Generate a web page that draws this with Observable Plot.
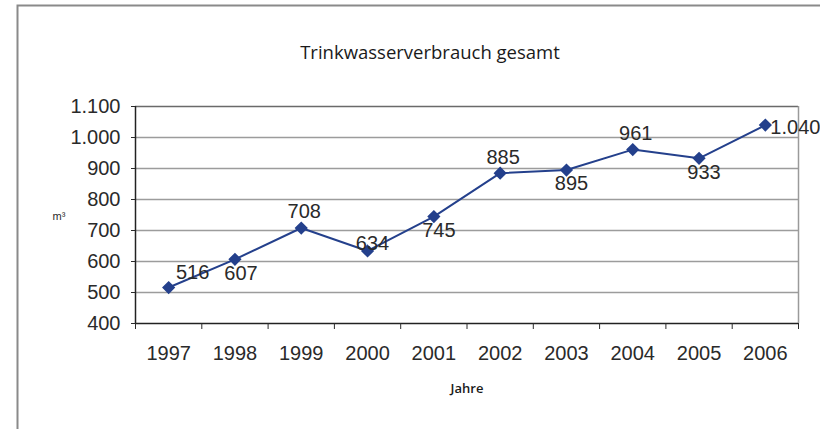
<!DOCTYPE html>
<html>
<head>
<meta charset="utf-8">
<script src="https://cdn.jsdelivr.net/npm/d3@7"></script>
<script src="https://cdn.jsdelivr.net/npm/@observablehq/plot@0.6"></script>
<style>
  html, body { margin: 0; padding: 0; background: #fff; }
</style>
</head>
<body>
<div id="chart"></div>
<script>
const title = "Trinkwasserverbrauch gesamt";
const yUnit = "m³";
const xTitle = "Jahre";
const years = [1997, 1998, 1999, 2000, 2001, 2002, 2003, 2004, 2005, 2006];
const values = [516, 607, 708, 634, 745, 885, 895, 961, 933, 1040];
const yTicks = [400, 500, 600, 700, 800, 900, 1000, 1100];
const labelPlacement = ["ne", "se", "n", "c", "s", "n", "s", "n", "s", "e"];

const data = years.map((year, i) => ({year, value: values[i], place: labelPlacement[i]}));

const de = d3.formatLocale({decimal: ",", thousands: ".", grouping: [3], currency: ["", " €"]});
const fmt = de.format(",");

const placeStyle = {
  ne: {dx: 24, dy: -15, textAnchor: "middle"},
  se: {dx: 6, dy: 14, textAnchor: "middle"},
  n:  {dx: 3, dy: -16, textAnchor: "middle"},
  c:  {dx: 5, dy: -7, textAnchor: "middle"},
  s:  {dx: 5, dy: 14, textAnchor: "middle"},
  e:  {dx: 5, dy: 2, textAnchor: "start"}
};

const lineColor = "#24408c";
const xDomain = [d3.min(years) - 0.5, d3.max(years) + 0.5];
const boundaries = d3.range(xDomain[0], xDomain[1] + 0.01, 1);

const labelMarks = Object.entries(placeStyle).map(([key, st]) =>
  Plot.text(data.filter(d => d.place === key), {
    x: "year", y: "value", text: d => fmt(d.value),
    dx: st.dx, dy: st.dy, textAnchor: st.textAnchor,
    fontSize: 20, fill: "#2a2a2a"
  })
);

const chart = Plot.plot({
  width: 820,
  height: 429,
  marginLeft: 135,
  marginRight: 22,
  marginTop: 106,
  marginBottom: 106,
  style: {fontFamily: "'Liberation Sans', Arial, sans-serif", fontSize: "20px", color: "#2a2a2a", background: "#fff", overflow: "visible"},
  x: {domain: xDomain, label: null},
  y: {domain: [400, 1100], label: null},
  marks: [
    Plot.frame({insetLeft: -118, insetTop: -101, insetRight: -40, insetBottom: -140, stroke: "#8a8a8a", strokeWidth: 2}),
    Plot.ruleY(yTicks.slice(1, -1), {stroke: "#9c9c9c", strokeWidth: 1.5}),
    Plot.ruleY([d3.max(yTicks)], {stroke: "#6a6a6a", strokeWidth: 1.5}),
    Plot.ruleX([xDomain[1]], {stroke: "#9a9a9a", strokeWidth: 1.5}),
    Plot.ruleY([d3.min(yTicks)], {stroke: "#222", strokeWidth: 1.5}),
    Plot.ruleX([xDomain[0]], {stroke: "#222", strokeWidth: 1.5}),
    Plot.axisY({ticks: yTicks, tickSize: 4, tickPadding: 11, tickFormat: fmt, label: null, fontSize: 20}),
    Plot.axisX({ticks: years, tickSize: 0, tickPadding: 22, tickFormat: d => String(d), label: null, fontSize: 20}),
    Plot.axisX({ticks: boundaries, tickSize: 6, tickFormat: () => "", label: null}),
    Plot.line(data, {x: "year", y: "value", stroke: lineColor, strokeWidth: 2}),
    Plot.dot(data, {x: "year", y: "value", symbol: "diamond2", r: 5, fill: lineColor, stroke: lineColor}),
    ...labelMarks,
    Plot.text([title], {text: d => d, frameAnchor: "top", dx: -37, dy: -61, fontSize: 18.5, fontFamily: "'Open Sans', sans-serif", fill: "#1a1a1a"}),
    Plot.text([yUnit], {text: d => d, frameAnchor: "left", dx: -83, dy: 1, fontSize: 11, fill: "#2a2a2a"}),
    Plot.text([xTitle], {text: d => d, frameAnchor: "bottom", dx: 0, dy: 69, fontSize: 13, fontWeight: 600, fontFamily: "'Open Sans', sans-serif", fill: "#1a1a1a"})
  ]
});
document.getElementById("chart").appendChild(chart);
</script>
</body>
</html>
